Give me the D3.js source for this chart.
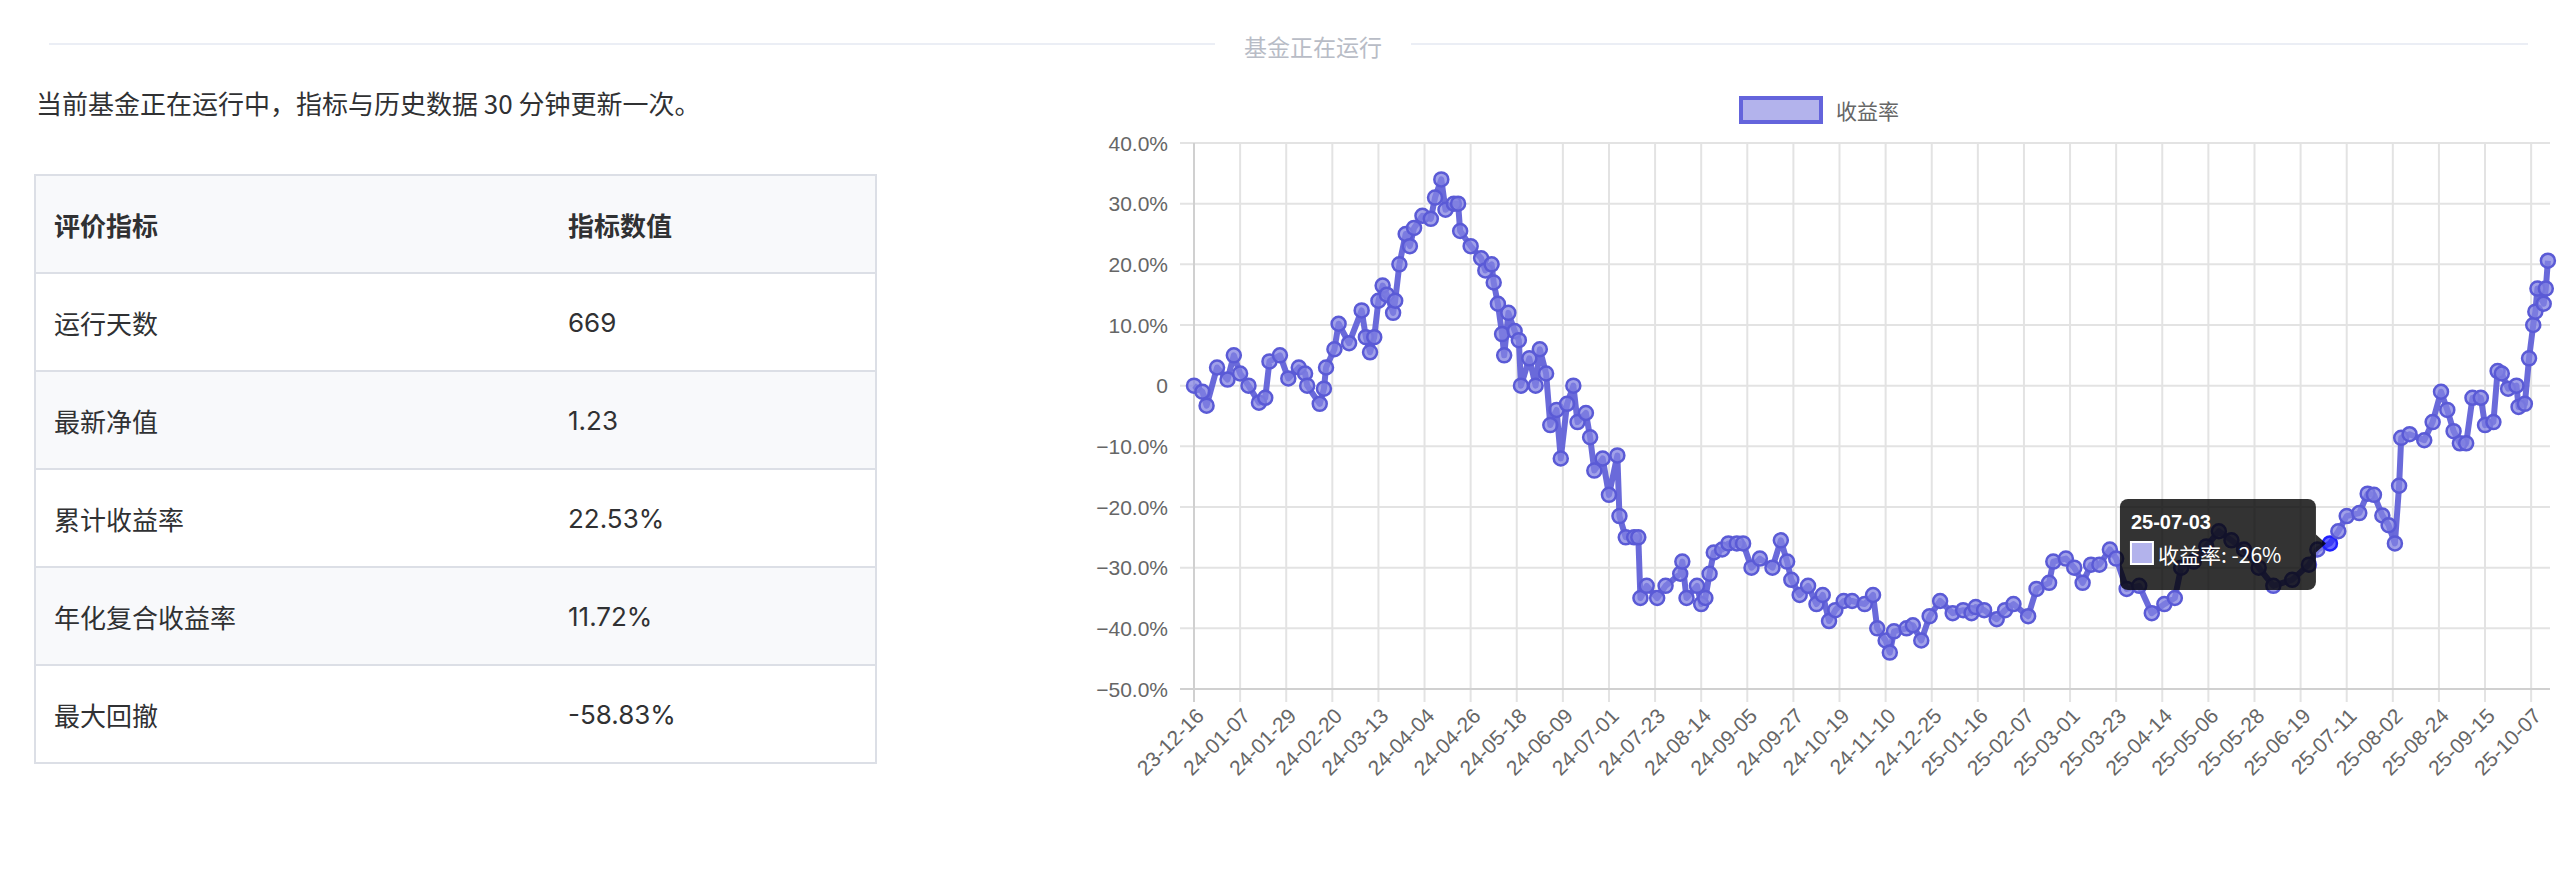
<!DOCTYPE html>
<html><head><meta charset="utf-8">
<script src="https://cdn.jsdelivr.net/npm/d3@7"></script>
<style>
body{margin:0;background:#fff;font-family:"Noto Sans CJK SC","Noto Sans",sans-serif;}
svg{display:block}
</style></head>
<body><svg id="chart" width="2574" height="874"></svg>
<script>
// table
var metricNames = ['运行天数', '最新净值', '累计收益率', '年化复合收益率', '最大回撤'];
var metricValues = ['669', '1.23', '22.53%', '11.72%', '-58.83%'];

// x categories: daily labels, with a gap in Nov/Dec 2024
var parse = d3.timeParse('%Y-%m-%d'), fmt = d3.timeFormat('%y-%m-%d');
var labels = d3.timeDay.range(parse('2023-12-16'), parse('2024-11-18'))
    .concat(d3.timeDay.range(parse('2024-12-11'), parse('2025-10-17')))
    .map(fmt);

// sampled readings: index into labels, return in %
var sampleDay = [0,4,6,11,16,19,22,26,31,34,36,41,45,50,53,54,60,62,63,67,69,74,80,82,84,86,88,90,92,95,96,98,101,103,105,109,113,115,118,120,124,126,127,132,137,139,142,143,145,147,148,150,153,155,156,160,163,165,168,170,173,175,178,181,183,187,189,191,195,198,202,203,206,210,212,213,216,221,225,232,233,235,240,242,244,246,248,252,255,259,262,266,270,276,280,283,285,289,293,297,300,303,306,310,314,320,324,326,330,332,334,340,343,347,351,356,362,367,371,373,377,383,387,391,398,402,408,410,416,420,424,428,432,437,440,445,451,457,463,468,471,477,483,489,495,501,508,515,524,532,536,542,546,550,556,560,563,567,570,573,575,576,580,587,591,595,598,601,604,607,610,614,616,620,622,624,627,631,632,635,637,639,640,641,644,645,646];
var returnPct = [0,-1,-3.3,3,1,5,2,0,-2.8,-2,4,5,1.2,3,2,0,-3,-0.5,3,6,10.2,7,12.4,8,5.5,8,14,16.5,15,12,14,20,25,23,26,28,27.5,31,34,29,30,30,25.5,23,21,19,20,17,13.5,8.5,5,12,9,7.5,0,4.5,0,6,2,-6.5,-4,-12,-3,0,-6,-4.5,-8.5,-14,-12,-18,-11.5,-21.5,-25,-25,-25,-35,-33,-35,-33,-31,-29,-35,-33,-36,-35,-31,-27.5,-27,-26,-26,-26,-30,-28.5,-30,-25.5,-29,-32,-34.5,-33,-36,-34.5,-38.8,-37,-35.5,-35.5,-36,-34.5,-40,-42,-44,-40.5,-40,-39.5,-42,-38,-35.5,-37.5,-37,-37.5,-36.5,-37,-38.5,-37,-36,-38,-33.5,-32.5,-29,-28.5,-30,-32.5,-29.5,-29.5,-27,-28.5,-33.5,-33,-37.5,-36,-35,-30,-29,-26.5,-24,-25.5,-27,-30,-33,-32,-29.5,-27,-26,-24,-21.5,-21,-17.8,-18,-21.4,-23,-26,-16.5,-8.6,-8,-9,-6,-1,-4,-7.5,-9.5,-9.5,-2,-2,-6.5,-6,2.4,2,-0.5,0,-3.5,-3,4.5,10,12.2,16,13.5,16,20.6];
var hoverDay = 542;

var yTicks = [40, 30, 20, 10, 0, -10, -20, -30, -40, -50];

var svg = d3.select('#chart');
var textColor = '#303133';

// header divider + title
svg.append('line').attr('x1', 49).attr('x2', 2528).attr('y1', 44).attr('y2', 44)
    .attr('stroke', '#ebeef5').attr('stroke-width', 2);
svg.append('rect').attr('x', 1215).attr('y', 30).attr('width', 196).attr('height', 30).attr('fill', '#fff');
svg.append('text').attr('x', 1313).attr('y', 46).attr('text-anchor', 'middle').attr('dominant-baseline', 'central')
    .attr('font-size', 23).attr('fill', '#b8bcc6').text('基金正在运行');

svg.append('text').attr('x', 36).attr('y', 102).attr('dominant-baseline', 'central')
    .attr('font-size', 26).attr('fill', textColor).text('当前基金正在运行中，指标与历史数据 30 分钟更新一次。');

// table
var tx = 35, tw = 841, ty = 175, rh = 98;
var rows = [['评价指标', '指标数值']].concat(metricNames.map((n, i) => [n, metricValues[i]]));
var tr = svg.append('g').selectAll('g').data(rows).enter().append('g')
    .attr('transform', (d, i) => `translate(${tx},${ty + i * rh})`);
tr.append('rect').attr('width', tw).attr('height', rh)
    .attr('fill', (d, i) => (i === 0 || i === 2 || i === 4) ? '#f8f9fb' : '#fff')
    .attr('stroke', '#dcdfe6').attr('stroke-width', 2);
tr.append('text').attr('x', 19).attr('y', rh / 2).attr('dominant-baseline', 'central')
    .attr('font-size', 26).attr('fill', textColor).attr('font-weight', (d, i) => i === 0 ? 700 : 400).text(d => d[0]);
tr.append('text').attr('x', 533).attr('y', rh / 2).attr('dominant-baseline', 'central')
    .attr('font-size', 26).attr('fill', textColor).attr('font-weight', (d, i) => i === 0 ? 700 : 400)
    .attr('font-family', (d, i) => i === 0 ? null : 'Inter, "Noto Sans", sans-serif').text(d => d[1]);

// chart
var x = d3.scalePoint().domain(labels).range([1194, 2550]);
var y = d3.scaleLinear().domain([-50, 40]).range([689, 143]);
var tickLabels = labels.filter((d, i) => i % 22 === 0);

var grid = svg.append('g').attr('stroke', '#e3e3e3').attr('stroke-width', 2);
grid.selectAll('line.h').data(yTicks).enter().append('line')
    .attr('x1', 1180).attr('x2', 2550).attr('y1', d => y(d)).attr('y2', d => y(d));
grid.selectAll('line.v').data(tickLabels).enter().append('line')
    .attr('x1', d => x(d)).attr('x2', d => x(d)).attr('y1', 143).attr('y2', 702);
svg.append('line').attr('x1', 1180).attr('x2', 2550).attr('y1', y(-50)).attr('y2', y(-50)).attr('stroke', '#d0d0d0').attr('stroke-width', 2);
svg.append('line').attr('x1', 1194).attr('x2', 1194).attr('y1', 143).attr('y2', 702).attr('stroke', '#d0d0d0').attr('stroke-width', 2);

svg.append('g').selectAll('text').data(yTicks).enter().append('text')
    .attr('x', 1168).attr('y', d => y(d)).attr('text-anchor', 'end').attr('dominant-baseline', 'central')
    .attr('font-size', 21).attr('fill', '#666').attr('font-family', 'Helvetica, "Liberation Sans", Arial, sans-serif')
    .text(d => d === 0 ? '0' : d3.format('.1f')(d) + '%');

svg.append('g').selectAll('text').data(tickLabels).enter().append('text')
    .attr('transform', d => `translate(${x(d) + 6},${712}) rotate(-45)`)
    .attr('text-anchor', 'end').attr('dominant-baseline', 'central')
    .attr('font-size', 21).attr('fill', '#666').attr('font-family', 'Helvetica, "Liberation Sans", Arial, sans-serif')
    .text(d => d);

// legend
svg.append('rect').attr('x', 1741).attr('y', 98).attr('width', 80).attr('height', 24)
    .attr('fill', '#b3b3ec').attr('stroke', '#6464dc').attr('stroke-width', 4);
svg.append('text').attr('x', 1836).attr('y', 110).attr('dominant-baseline', 'central')
    .attr('font-size', 21).attr('fill', '#666').text('收益率');

// series
var pts = sampleDay.map((d, i) => ({ day: d, v: returnPct[i] }));
var line = d3.line().x(d => x(labels[d.day])).y(d => y(d.v));
svg.append('path').datum(pts).attr('d', line).attr('fill', 'none')
    .attr('stroke', '#5a5ad6').attr('stroke-width', 6).attr('stroke-linejoin', 'round').attr('opacity', 0.9);
svg.append('g').selectAll('circle').data(pts).enter().append('circle')
    .attr('cx', d => x(labels[d.day])).attr('cy', d => y(d.v)).attr('r', 7)
    .attr('fill', d => d.day === hoverDay ? 'rgba(40,40,255,0.7)' : 'rgba(130,130,225,0.75)')
    .attr('stroke', d => d.day === hoverDay ? '#2020ff' : '#5a5ad6').attr('stroke-width', 2.5);

// tooltip
var hp = pts.find(d => d.day === hoverDay);
var hx = x(labels[hoverDay]) - 14, hy = y(hp.v);
var tip = svg.append('g');
tip.append('rect').attr('x', hx - 196).attr('y', 499).attr('width', 196).attr('height', 91).attr('rx', 8)
    .attr('fill', 'rgba(0,0,0,0.8)');
tip.append('path').attr('d', `M${hx},${hy - 9}L${hx + 10},${hy}L${hx},${hy + 9}Z`).attr('fill', 'rgba(0,0,0,0.8)');
tip.append('text').attr('x', hx - 185).attr('y', 522).attr('dominant-baseline', 'central')
    .attr('font-size', 20).attr('font-weight', 700).attr('fill', '#fff')
    .attr('font-family', 'Helvetica, "Liberation Sans", Arial, sans-serif').text(labels[hoverDay]);
tip.append('rect').attr('x', hx - 185).attr('y', 542).attr('width', 22).attr('height', 22)
    .attr('fill', '#b3b3ec').attr('stroke', '#fff').attr('stroke-width', 2);
tip.append('text').attr('x', hx - 158).attr('y', 554).attr('dominant-baseline', 'central')
    .attr('font-size', 21).attr('fill', '#fff').text('收益率: ' + Math.round(hp.v) + '%');
</script>
</body></html>
